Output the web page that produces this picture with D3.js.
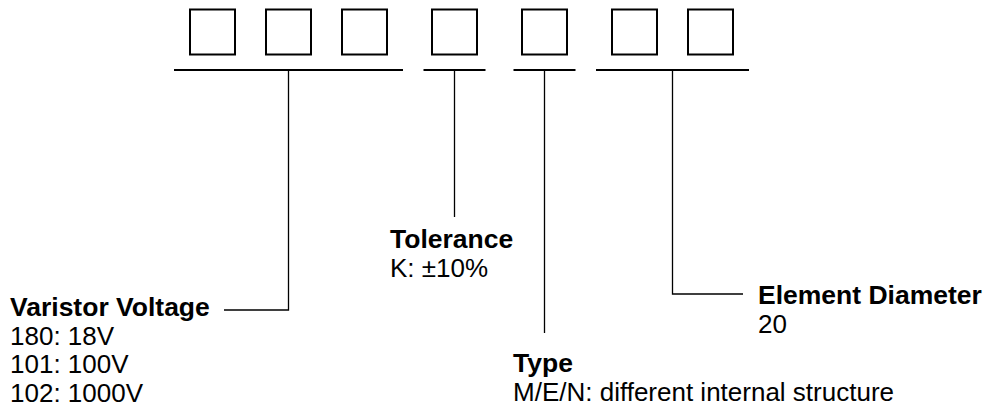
<!DOCTYPE html>
<html>
<head>
<meta charset="utf-8">
<script src="https://cdn.jsdelivr.net/npm/d3@7"></script>
<style>
  html, body { margin: 0; padding: 0; background: #fff; }
  svg { display: block; }
  text { font-family: "Liberation Sans", Arial, Helvetica, sans-serif; fill: #000; }
</style>
</head>
<body>
<svg id="chart" width="985" height="414"></svg>
<script>
// ---- data ----
const groupNames = ["Varistor Voltage", "Tolerance", "Type", "Element Diameter"];
const groupDigits = [3, 1, 1, 2];
const groupDescriptions = [
  ["180: 18V", "101: 100V", "102: 1000V"],
  ["K: \u00b110%"],
  ["M/E/N: different internal structure"],
  ["20"]
];

// ---- layout ----
const W = 985, H = 414;
const boxSize = 45;
const groupGapUnits = 14 / 76;
const svg = d3.select("#chart");

const slots = [];
let idx = 0;
groupDigits.forEach((n, g) => {
  for (let k = 0; k < n; k++) { slots.push({ group: g, slot: idx, u: idx + g * groupGapUnits }); idx++; }
});
const uMax = (idx - 1) + (groupDigits.length - 1) * groupGapUnits;
const x = d3.scaleLinear().domain([0, uMax]).range([190, 688]);

const boxTop = 9.5, barY = 70;

svg.selectAll("rect.box").data(slots).join("rect")
  .attr("class", "box")
  .attr("x", d => x(d.u)).attr("y", boxTop)
  .attr("width", boxSize).attr("height", boxSize)
  .attr("fill", "none").attr("stroke", "#000").attr("stroke-width", 2);

const groups = groupNames.map((name, g) => {
  const s = slots.filter(d => d.group === g);
  const pad = s.length > 1 ? 16 : 8.5;
  const x0 = x(s[0].u) - pad, x1 = x(s[s.length - 1].u) + boxSize + pad;
  return { name, g, x0, x1, cx: (x0 + x1) / 2, desc: groupDescriptions[g] };
});

const labelLayout = [
  { vEnd: 310, elbowTo: 224, tx: 10, ty: 316 },
  { vEnd: 217, elbowTo: null, tx: 390, ty: 248 },
  { vEnd: 333, elbowTo: null, tx: 513, ty: 372 },
  { vEnd: 294, elbowTo: 743, tx: 758, ty: 304 }
];
const lineH = 28.5;
const fsBold = 26.5, fs = 26;

const lineGen = d3.line();
groups.forEach((gr, i) => {
  const L = labelLayout[i];
  svg.append("path").attr("d", lineGen([[gr.x0, barY], [gr.x1, barY]]))
    .attr("stroke", "#000").attr("stroke-width", 2).attr("fill", "none");
  const pts = [[gr.cx, barY], [gr.cx, L.vEnd]];
  if (L.elbowTo !== null) pts.push([L.elbowTo, L.vEnd]);
  svg.append("path").attr("d", lineGen(pts))
    .attr("stroke", "#000").attr("stroke-width", 1.3).attr("fill", "none");
  svg.append("text").attr("x", L.tx).attr("y", L.ty)
    .attr("font-size", fsBold).attr("font-weight", "bold").text(gr.name);
  gr.desc.forEach((dsc, j) => {
    svg.append("text").attr("x", L.tx).attr("y", L.ty + lineH * (j + 1))
      .attr("font-size", fs).text(dsc);
  });
});
</script>
</body>
</html>
